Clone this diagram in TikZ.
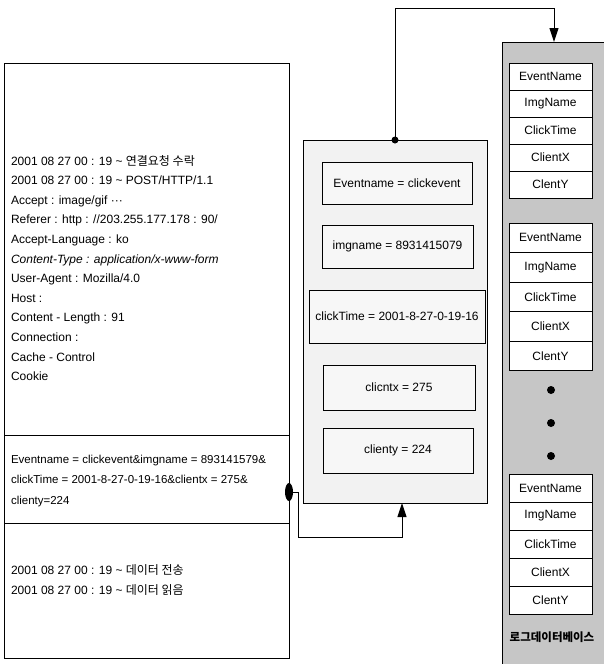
\documentclass[tikz,border=0pt]{standalone}
\usepackage{fontspec}
\setmainfont{Liberation Sans}
\newfontfamily\kr{Noto Sans CJK KR}
\usetikzlibrary{arrows.meta,calc}
\begin{document}
\begin{tikzpicture}[x=1pt,y=-1pt,
  every node/.style={inner sep=0pt,outer sep=0pt},
  secbox/.style={draw,line width=1pt,anchor=north west},
  fbox/.style={draw,line width=1pt,fill=gray!6,font=\fontsize{12}{12}\selectfont},
  rowbox/.style={draw,line width=1pt,fill=white,minimum width=83pt,font=\fontsize{12}{12}\selectfont},
  txt/.style={font=\fontsize{12}{19.6}\selectfont,align=left,anchor=west},
  arr/.style={line width=1pt,-{Triangle[length=14pt,width=9pt]}},
  blackdot/.style={circle,fill=black,minimum size=8pt}]
\useasboundingbox (0,0) rectangle (604,664);
\fill[white] (0,0) rectangle (604,664);

% left request box
\node[secbox,minimum width=285pt,minimum height=372pt] (req) at (4,63) {};
\node[secbox,minimum width=285pt,minimum height=88pt] (qs) at (4,435) {};
\node[secbox,minimum width=285pt,minimum height=135pt] (resp) at (4,523) {};

\node[txt] (reqtxt) at (11,268) {2001 08 27 00 : 19 \textasciitilde{} {\kr 연결요청 수락}\\
2001 08 27 00 : 19 \textasciitilde{} POST/HTTP/1.1\\
Accept : image/gif ···\\
Referer : http : //203.255.177.178 : 90/\\
Accept-Language : ko\\
{\itshape Content-Type : application/x-www-form}\\
User-Agent : Mozilla/4.0\\
Host :\\
Content - Length : 91\\
Connection :\\
Cache - Control\\
Cookie};

\node[txt,font=\fontsize{11.5}{20.5}\selectfont] (qstxt) at (11,481) {Eventname = clickevent\&imgname = 893141579\&\\
clickTime = 2001-8-27-0-19-16\&clientx = 275\&\\
clienty=224};

\node[txt] (resptxt) at (11,580) {2001 08 27 00 : 19 \textasciitilde{} {\kr 데이터 전송}\\
2001 08 27 00 : 19 \textasciitilde{} {\kr 데이터 읽음}};

% middle parsed box
\node[secbox,fill=gray!10,minimum width=184pt,minimum height=363pt] (mid) at (303,140) {};
\node[fbox,minimum width=150pt,minimum height=42pt] (p1) at (397,183) {Eventname = clickevent};
\node[fbox,minimum width=151pt,minimum height=43pt] (p2) at (397.5,246.5) {imgname = 8931415079};
\node[fbox,minimum width=176pt,minimum height=53pt] (p3) at (397,316.5) {clickTime = 2001-8-27-0-19-16};
\node[fbox,minimum width=152pt,minimum height=45pt] (p4) at (399,387.5) {clicntx = 275};
\node[fbox,minimum width=150pt,minimum height=45pt] (p5) at (398,450.5) {clienty = 224};

% database column
\node[secbox,fill=gray!45,minimum width=104pt,minimum height=624pt] (db) at (502,42) {};

% table 1
\node[rowbox,minimum height=27pt] (a1) at (550.5,76.5) {EventName};
\node[rowbox,minimum height=27pt] (a2) at (550.5,103.5) {ImgName};
\node[rowbox,minimum height=27pt] (a3) at (550.5,130.5) {ClickTime};
\node[rowbox,minimum height=27pt] (a4) at (550.5,157.5) {ClientX};
\node[rowbox,minimum height=27pt] (a5) at (550.5,184.5) {ClentY};
% table 2
\node[rowbox,minimum height=29.5pt] (b1) at (550.5,237.75) {EventName};
\node[rowbox,minimum height=29.5pt] (b2) at (550.5,267.25) {ImgName};
\node[rowbox,minimum height=29.5pt] (b3) at (550.5,296.75) {ClickTime};
\node[rowbox,minimum height=29.5pt] (b4) at (550.5,326.25) {ClientX};
\node[rowbox,minimum height=29.5pt] (b5) at (550.5,355.75) {ClentY};
% dots
\node[blackdot] (d1) at (551,390) {};
\node[blackdot] (d2) at (551,423) {};
\node[blackdot] (d3) at (551,456) {};
% table 3
\node[rowbox,minimum height=28pt] (c1) at (550.5,488) {EventName};
\node[rowbox,minimum height=28pt] (c2) at (550.5,516) {ImgName};
\node[rowbox,minimum height=28pt] (c3) at (550.5,544) {ClickTime};
\node[rowbox,minimum height=28pt] (c4) at (550.5,572) {ClientX};
\node[rowbox,minimum height=28pt] (c5) at (550.5,600) {ClentY};
\node[font=\kr\bfseries\fontsize{11.5}{11.5}\selectfont] (dblabel) at (552,637) {로그데이터베이스};

% connectors
\node[blackdot,minimum size=7pt] (topdot) at (mid.north) {};
\draw[arr] (mid.north) -- ++(0,-132) -| (db.north);

\coordinate (tap) at (289,492);
\coordinate (midin) at (402,503);
\fill (tap) ellipse [x radius=4pt, y radius=9pt];
\draw[arr] (tap) -- (298,492) -- (298,537) -| (midin);
\end{tikzpicture}
\end{document}
